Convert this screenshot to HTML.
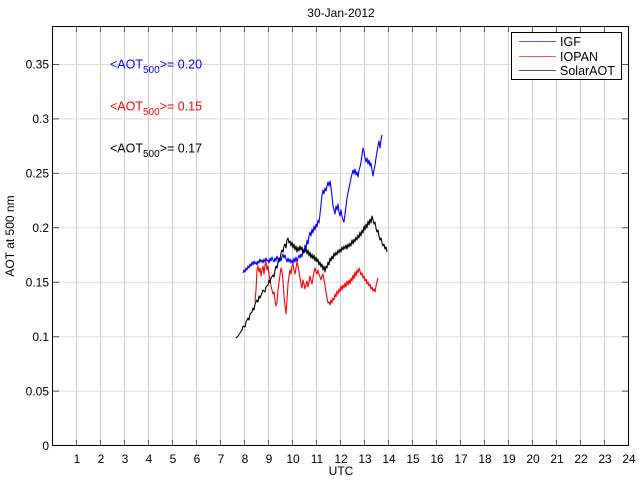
<!DOCTYPE html>
<html>
<head>
<meta charset="utf-8">
<style>
html,body{margin:0;padding:0;background:#fff;}
svg{display:block;}
text{font-family:"Liberation Sans",Arial,Helvetica,sans-serif;}
</style>
</head>
<body>
<svg width="640" height="480" viewBox="0 0 640 480" xmlns="http://www.w3.org/2000/svg">
<rect x="0" y="0" width="640" height="480" fill="#fff"/>

<!-- horizontal grid -->
<g stroke="#dedede" stroke-width="1">
<line x1="53" y1="391.1" x2="628" y2="391.1"/>
<line x1="53" y1="336.7" x2="628" y2="336.7"/>
<line x1="53" y1="282.2" x2="628" y2="282.2"/>
<line x1="53" y1="227.8" x2="628" y2="227.8"/>
<line x1="53" y1="173.4" x2="628" y2="173.4"/>
<line x1="53" y1="118.9" x2="628" y2="118.9"/>
<line x1="53" y1="64.5" x2="628" y2="64.5"/>
</g>
<!-- vertical grid -->
<g stroke="#cfcfcf" stroke-width="1">
<line x1="76.5" y1="27" x2="76.5" y2="445"/>
<line x1="100.5" y1="27" x2="100.5" y2="445"/>
<line x1="124.5" y1="27" x2="124.5" y2="445"/>
<line x1="148.5" y1="27" x2="148.5" y2="445"/>
<line x1="172.5" y1="27" x2="172.5" y2="445"/>
<line x1="196.5" y1="27" x2="196.5" y2="445"/>
<line x1="220.5" y1="27" x2="220.5" y2="445"/>
<line x1="244.5" y1="27" x2="244.5" y2="445"/>
<line x1="268.5" y1="27" x2="268.5" y2="445"/>
<line x1="292.5" y1="27" x2="292.5" y2="445"/>
<line x1="316.5" y1="27" x2="316.5" y2="445"/>
<line x1="340.5" y1="27" x2="340.5" y2="445"/>
<line x1="364.5" y1="27" x2="364.5" y2="445"/>
<line x1="388.5" y1="27" x2="388.5" y2="445"/>
<line x1="412.5" y1="27" x2="412.5" y2="445"/>
<line x1="436.5" y1="27" x2="436.5" y2="445"/>
<line x1="460.5" y1="27" x2="460.5" y2="445"/>
<line x1="484.5" y1="27" x2="484.5" y2="445"/>
<line x1="508.5" y1="27" x2="508.5" y2="445"/>
<line x1="532.5" y1="27" x2="532.5" y2="445"/>
<line x1="556.5" y1="27" x2="556.5" y2="445"/>
<line x1="580.5" y1="27" x2="580.5" y2="445"/>
<line x1="604.5" y1="27" x2="604.5" y2="445"/>
</g>

<!-- ticks -->
<g stroke="#555" stroke-width="1">
<path d="M76.5 445v-5M100.5 445v-5M124.5 445v-5M148.5 445v-5M172.5 445v-5M196.5 445v-5M220.5 445v-5M244.5 445v-5M268.5 445v-5M292.5 445v-5M316.5 445v-5M340.5 445v-5M364.5 445v-5M388.5 445v-5M412.5 445v-5M436.5 445v-5M460.5 445v-5M484.5 445v-5M508.5 445v-5M532.5 445v-5M556.5 445v-5M580.5 445v-5M604.5 445v-5"/>
<path d="M76.5 27v5M100.5 27v5M124.5 27v5M148.5 27v5M172.5 27v5M196.5 27v5M220.5 27v5M244.5 27v5M268.5 27v5M292.5 27v5M316.5 27v5M340.5 27v5M364.5 27v5M388.5 27v5M412.5 27v5M436.5 27v5M460.5 27v5M484.5 27v5M508.5 27v5M532.5 27v5M556.5 27v5M580.5 27v5M604.5 27v5"/>
<path d="M53 391.1h6M53 336.7h6M53 282.2h6M53 227.8h6M53 173.4h6M53 118.9h6M53 64.5h6"/>
<path d="M628 391.1h-6M628 336.7h-6M628 282.2h-6M628 227.8h-6M628 173.4h-6M628 118.9h-6M628 64.5h-6"/>
</g>

<!-- axes box -->
<rect x="52.5" y="26.5" width="576" height="419" fill="none" stroke="#000" stroke-width="1"/>

<!-- series: IGF (blue) -->
<polyline fill="none" stroke="blue" stroke-width="1.1" stroke-linejoin="round" points="243,273 244,270 245,272 246,268 247,270 248,266 249,268 250,264 251,266 252,262 253,265 254,261 255,264 256,262 257,265 258,261 259,263 260,259 261,262 262,260 263,263 264,259 265,262 266,258 267,261 268,260 269,263 270,258 271,261 272,257 273,260 274,262 275,258 276,261 277,256 278,259 279,262 280,258 281,261 282,257 283,254 284,258 285,255 286,259 287,262 288,258 289,262 290,259 291,263 292,260 293,264 294,258 295,262 296,257 297,262 298,258 299,255 300,258 301,254 302,257 303,250 304,253 305,245 306,249 307,240 308,244 309,236 310,232 311,236 312,229 313,233 314,226 315,230 316,224 317,227 318,220 319,223 320,214 321,205 322,195 323,190 324,194 325,188 326,191 327,186 328,182 329,186 330,181 331,188 332,196 333,206 334,210 335,214 336,206 337,210 338,204 339,212 340,216 341,210 342,216 343,220 344,222 345,214 346,206 347,198 348,193 349,188 350,183 351,178 352,174 353,170 354,174 355,169 356,175 357,172 358,177 359,170 360,167 361,162 362,155 363,148 364,152 365,158 366,162 367,158 368,164 369,160 370,166 371,163 372,170 373,176 374,170 375,165 376,158 377,152 378,146 379,141 380,148 381,140 382,135"/>

<!-- series: IOPAN (red) -->
<polyline fill="none" stroke="red" stroke-width="1.1" stroke-linejoin="round" points="255,302 256,290 257,270 258,266 259,272 260,268 261,276 262,270 263,266 264,274 265,265 266,262 267,270 268,266 269,274 270,280 271,286 272,290 273,294 274,292 275,300 276,306 277,303 278,290 279,282 280,275 281,268 282,272 283,280 284,296 285,306 286,314 287,300 288,284 289,276 290,270 291,274 292,266 293,264 294,270 295,274 296,268 297,262 298,266 299,272 300,278 301,284 302,288 303,280 304,284 305,289 306,284 307,281 308,287 309,283 310,276 311,280 312,284 313,278 314,272 315,268 316,272 317,274 318,270 319,274 320,277 321,280 322,276 323,274 324,280 325,285 326,292 327,298 328,303 329,302 330,305 331,300 332,303 333,298 334,300 335,294 336,297 337,291 338,294 339,289 340,292 341,286 342,290 343,285 344,288 345,283 346,287 347,281 348,285 349,280 350,284 351,278 352,281 353,275 354,279 355,272 356,276 357,270 358,273 359,268 360,271 361,275 362,273 363,278 364,276 365,281 366,279 367,284 368,282 369,286 370,284 371,289 372,287 373,291 374,289 375,292 376,286 377,282 378,278"/>

<!-- series: SolarAOT (black) -->
<polyline fill="none" stroke="black" stroke-width="1.1" stroke-linejoin="round" points="236,338 238,336 240,333 242,330 243,326 245,327 246,322 248,318 249,320 250,314 252,312 253,308 254,310 255,304 257,300 258,302 259,296 260,298 262,293 263,290 265,292 266,287 268,285 269,280 270,283 271,278 273,275 274,277 275,270 276,266 277,268 278,262 279,258 280,260 281,253 282,250 283,252 284,246 285,244 286,248 287,240 288,238 289,243 290,241 291,246 292,242 293,248 294,244 295,250 296,246 297,252 298,247 299,251 300,246 301,250 302,247 303,253 304,249 305,252 306,248 307,254 308,250 309,256 310,252 311,258 312,254 313,259 314,255 315,261 316,257 317,262 318,259 319,265 320,262 321,267 322,264 323,270 324,266 325,272 326,266 327,268 328,262 329,265 330,258 331,261 332,256 333,259 334,253 335,256 336,252 337,255 338,250 339,253 340,249 341,252 342,247 343,250 344,246 345,249 346,245 347,249 348,244 349,247 350,243 351,246 352,240 353,244 354,239 355,242 356,237 357,240 358,235 359,238 360,232 361,236 362,230 363,233 364,226 365,230 366,224 367,228 368,221 369,225 370,219 371,223 372,216 373,220 374,224 375,222 376,228 377,232 378,230 379,236 380,240 381,238 382,243 383,246 384,244 385,249 386,247 387,252"/>

<!-- y tick labels -->
<g font-size="12" text-anchor="end" fill="#000">
<text x="49" y="450">0</text>
<text x="49" y="395.3">0.05</text>
<text x="49" y="340.9">0.1</text>
<text x="49" y="286.4">0.15</text>
<text x="49" y="232">0.2</text>
<text x="49" y="177.6">0.25</text>
<text x="49" y="123.1">0.3</text>
<text x="49" y="68.7">0.35</text>
</g>

<!-- x tick labels -->
<g font-size="12" text-anchor="middle" fill="#000">
<text x="77" y="463">1</text>
<text x="101" y="463">2</text>
<text x="125" y="463">3</text>
<text x="149" y="463">4</text>
<text x="173" y="463">5</text>
<text x="197" y="463">6</text>
<text x="221" y="463">7</text>
<text x="245" y="463">8</text>
<text x="269" y="463">9</text>
<text x="293" y="463">10</text>
<text x="317" y="463">11</text>
<text x="341" y="463">12</text>
<text x="365" y="463">13</text>
<text x="389" y="463">14</text>
<text x="413" y="463">15</text>
<text x="437" y="463">16</text>
<text x="461" y="463">17</text>
<text x="485" y="463">18</text>
<text x="509" y="463">19</text>
<text x="533" y="463">20</text>
<text x="557" y="463">21</text>
<text x="581" y="463">22</text>
<text x="605" y="463">23</text>
<text x="629" y="463">24</text>
</g>

<!-- axis labels & title -->
<text x="341" y="475" font-size="12" text-anchor="middle" fill="#000">UTC</text>
<text x="341" y="17" font-size="12" text-anchor="middle" fill="#000">30-Jan-2012</text>
<text transform="translate(14,236) rotate(-90)" font-size="12" text-anchor="middle" fill="#000">AOT at 500 nm</text>

<!-- annotations -->
<text x="110" y="68.5" font-size="12.5" fill="blue">&lt;AOT<tspan font-size="10" dy="4.5">500</tspan><tspan dy="-4.5">&gt;= 0.20</tspan></text>
<text x="110" y="110.5" font-size="12.5" fill="red">&lt;AOT<tspan font-size="10" dy="4.5">500</tspan><tspan dy="-4.5">&gt;= 0.15</tspan></text>
<text x="110" y="152.5" font-size="12.5" fill="#000">&lt;AOT<tspan font-size="10" dy="4.5">500</tspan><tspan dy="-4.5">&gt;= 0.17</tspan></text>

<!-- legend -->
<rect x="511.5" y="32.5" width="110" height="47" fill="#fff" stroke="#000" stroke-width="1"/>
<rect x="519" y="41" width="37" height="1" fill="#5555ff"/>
<rect x="519" y="56" width="37" height="1" fill="#ff5555"/>
<rect x="519" y="70" width="37" height="1" fill="#555555"/>
<g font-size="12.5" fill="#000">
<text x="560" y="46">IGF</text>
<text x="560" y="61">IOPAN</text>
<text x="560" y="75">SolarAOT</text>
</g>
</svg>
</body>
</html>
